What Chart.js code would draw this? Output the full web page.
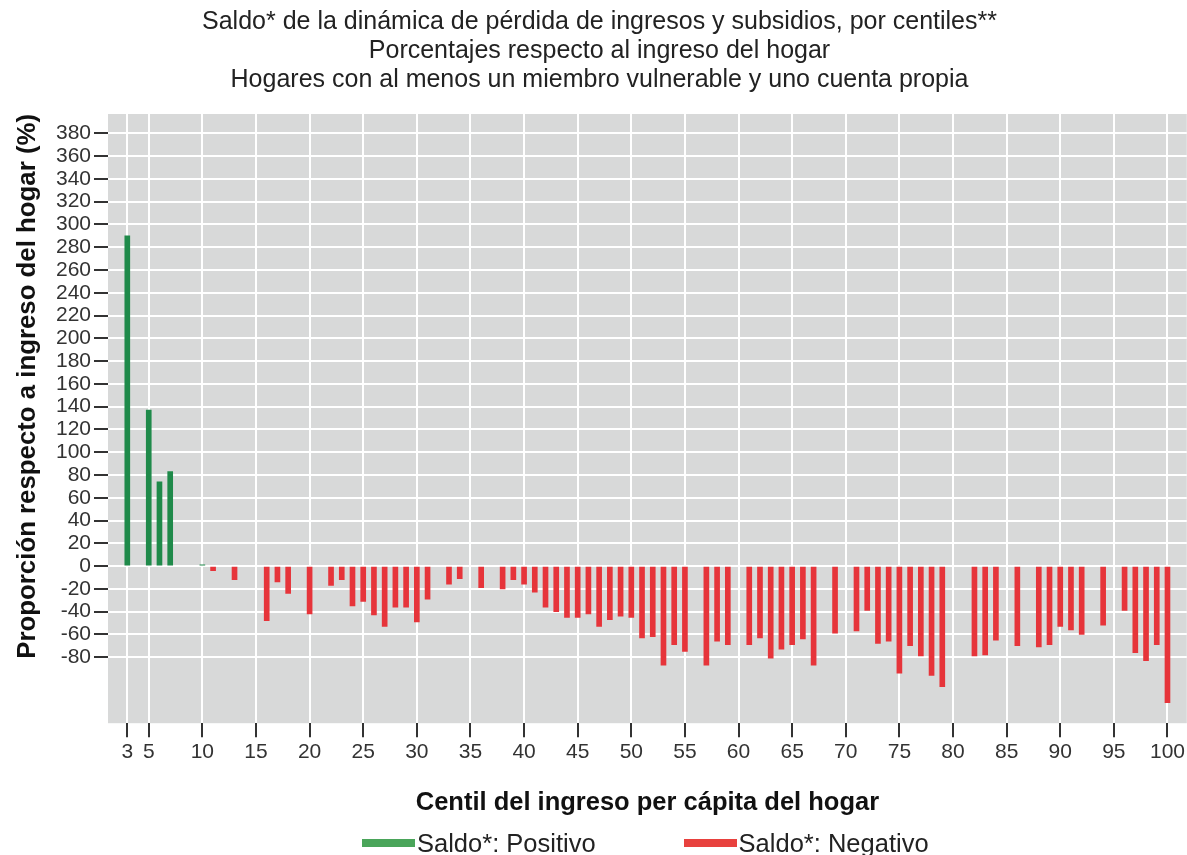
<!DOCTYPE html>
<html>
<head>
<meta charset="utf-8">
<script src="https://cdn.jsdelivr.net/npm/chart.js@4.4.0/dist/chart.umd.min.js"></script>
<style>
  html, body { margin: 0; padding: 0; background: #fff; }
  #wrap { position: relative; width: 1187px; height: 855px; }
  #legend { position: absolute; left: 362px; top: 828px; display: flex; align-items: center;
    font-family: "Liberation Sans", Arial, sans-serif; font-size: 25.5px; color: #222; line-height: 30px; }
  #legend span.box { display: inline-block; width: 53px; height: 8px; margin-right: 2px; }
  #legend span.item { display: inline-flex; align-items: center; }
</style>
</head>
<body>
<div id="wrap">
  <canvas id="chart" width="1187" height="855"></canvas>
  <div id="legend"></div>
</div>
<script>
// centiles y saldo (% del ingreso del hogar)
const centiles = [3, 5, 6, 7, 10, 11, 13, 16, 17, 18, 20, 22, 23, 24, 25, 26, 27, 28, 29, 30, 31,
  33, 34, 36, 38, 39, 40, 41, 42, 43, 44, 45, 46, 47, 48, 49, 50, 51, 52, 53, 54, 55, 57, 58, 59,
  61, 62, 63, 64, 65, 66, 67, 69, 71, 72, 73, 74, 75, 76, 77, 78, 79, 82, 83, 84, 86, 88, 89, 90,
  91, 92, 94, 96, 97, 98, 99, 100];
const saldo = [290, 137, 74, 83, 1, -4, -12, -48, -14, -24, -42, -17, -12, -35, -31, -43, -53, -36, -36, -49, -29,
  -16, -11, -19, -20, -12, -16, -23, -36, -40, -45, -45, -42, -53, -47, -44, -45, -63, -62, -87, -69, -75, -87, -66, -69,
  -69, -63, -81, -73, -69, -64, -87, -59, -57, -39, -68, -66, -94, -70, -79, -96, -106, -79, -78, -65, -70, -71, -69, -53,
  -56, -60, -52, -39, -76, -83, -69, -120];

const xTicks = [3, 5, 10, 15, 20, 25, 30, 35, 40, 45, 50, 55, 60, 65, 70, 75, 80, 85, 90, 95, 100];
const yTicks = [-80, -60, -40, -20, 0, 20, 40, 60, 80, 100, 120, 140, 160, 180, 200, 220, 240, 260, 280, 300, 320, 340, 360, 380];

const seriesNames = ["Saldo*: Positivo", "Saldo*: Negativo"];
const barColors = ["#1f8a4a", "#e6343a"];
const legendColors = ["#4aa55a", "#e8413e"];

const positivo = centiles.map((c, i) => saldo[i] >= 0 ? { x: c, y: saldo[i] } : null).filter(Boolean);
const negativo = centiles.map((c, i) => saldo[i] < 0 ? { x: c, y: saldo[i] } : null).filter(Boolean);

const font = "'Liberation Sans', Arial, sans-serif";

const plotBg = {
  id: "plotBg",
  beforeDraw(chart) {
    const { ctx, chartArea: a } = chart;
    ctx.save();
    ctx.fillStyle = "#d8d9d9";
    ctx.fillRect(a.left, a.top, a.right - a.left, a.bottom - a.top);
    ctx.restore();
  }
};

new Chart(document.getElementById("chart"), {
  type: "bar",
  data: {
    datasets: [
      { label: seriesNames[0], data: positivo, backgroundColor: barColors[0], barThickness: 5 },
      { label: seriesNames[1], data: negativo, backgroundColor: barColors[1], barThickness: 5 }
    ]
  },
  options: {
    responsive: false,
    animation: false,
    grouped: false,
    layout: { padding: { top: 6, left: 12, right: 0, bottom: 37 } },
    plugins: {
      legend: { display: false },
      tooltip: { enabled: false },
      title: {
        display: true,
        text: ["Saldo* de la dinámica de pérdida de ingresos y subsidios, por centiles**",
               "Porcentajes respecto al ingreso del hogar",
               "Hogares con al menos un miembro vulnerable y uno cuenta propia"],
        font: { family: font, size: 25, weight: "normal", lineHeight: 1.16 },
        color: "#222",
        padding: { top: 2, bottom: 19 }
      }
    },
    scales: {
      x: {
        type: "linear",
        min: 1.2,
        max: 101.8,
        offset: false,
        afterBuildTicks: (axis) => { axis.ticks = xTicks.map(v => ({ value: v })); },
        ticks: { autoSkip: false, maxRotation: 0, color: "#333", font: { family: font, size: 21 }, padding: 2 },
        grid: { offset: false, color: "#ffffff", lineWidth: 2, tickColor: "#333", tickLength: 14, tickWidth: 2 },
        border: { display: false },
        title: {
          display: true,
          text: "Centil del ingreso per cápita del hogar",
          font: { family: font, size: 25.5, weight: "bold" },
          color: "#111",
          padding: { top: 21, bottom: 0 }
        }
      },
      y: {
        min: -138,
        max: 397,
        afterBuildTicks: (axis) => { axis.ticks = yTicks.map(v => ({ value: v })); },
        ticks: { autoSkip: false, color: "#333", font: { family: font, size: 21 }, padding: 3 },
        grid: { color: "#ffffff", lineWidth: 2, tickColor: "#333", tickLength: 14, tickWidth: 2 },
        border: { display: false },
        title: {
          display: true,
          text: "Proporción respecto a ingreso del hogar (%)",
          align: "end",
          font: { family: font, size: 25.8, weight: "bold" },
          color: "#111",
          padding: { top: 0, bottom: 10 }
        }
      }
    }
  },
  plugins: [plotBg]
});

// leyenda
const legend = document.getElementById("legend");
seriesNames.forEach((name, i) => {
  const item = document.createElement("span");
  item.className = "item";
  if (i > 0) item.style.marginLeft = "88px";
  const box = document.createElement("span");
  box.className = "box";
  box.style.background = legendColors[i];
  item.appendChild(box);
  item.appendChild(document.createTextNode(name));
  legend.appendChild(item);
});
</script>
</body>
</html>
